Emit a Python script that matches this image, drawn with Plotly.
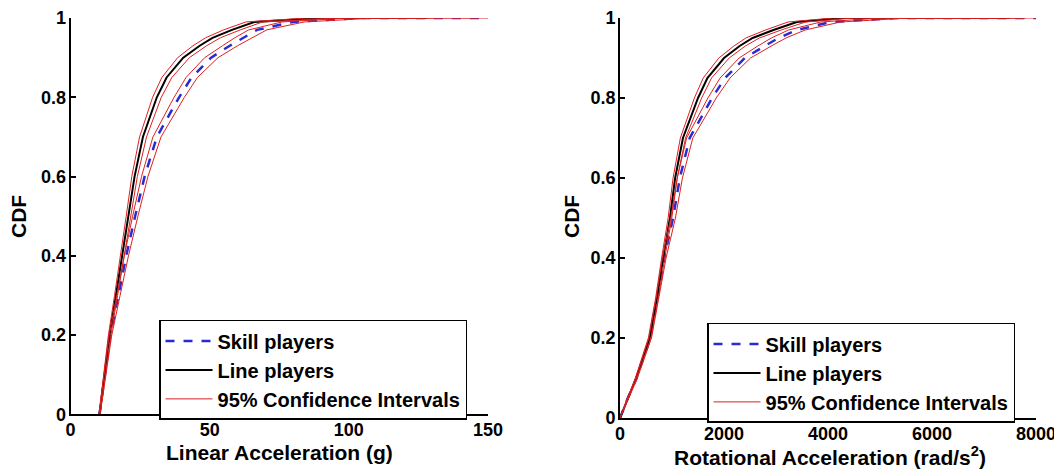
import plotly.graph_objects as go

# ---------------- data ----------------
# Left panel: Linear Acceleration (g)
lin_cdf = [0, 0.1, 0.2, 0.3, 0.4, 0.5, 0.6, 0.7, 0.8, 0.85, 0.9, 0.93, 0.95, 0.97, 0.99, 1.0, 1.0]
lin_line = [10.4, 12.2, 14.0, 16.3, 18.6, 20.8, 23.0, 26.0, 31.0, 34.5, 40.5, 46.4, 51, 58, 66, 90, 128]
lin_line_lo = [10.2, 11.8, 13.6, 15.8, 18.0, 20.0, 22.0, 24.8, 29.5, 32.8, 38.5, 44.0, 48.5, 55, 63, 85, 125]
lin_line_hi = [10.6, 12.6, 14.5, 16.9, 19.3, 21.6, 24.0, 27.3, 32.6, 36.4, 42.7, 48.9, 53.8, 61, 69, 96, 132]
lin_skill = [10.4, 12.3, 14.3, 17.2, 20.0, 23.2, 26.6, 31.0, 39.0, 43.5, 50.5, 57.2, 62, 67, 80, 105, 150]
lin_skill_lo = [10.2, 12.0, 13.9, 16.6, 19.3, 22.3, 25.5, 29.6, 37.2, 41.5, 48.2, 54.6, 59, 64, 76, 100, 146]
lin_skill_hi = [10.6, 12.7, 14.8, 17.8, 20.8, 24.2, 27.8, 32.5, 40.9, 45.6, 53, 60, 65, 70.5, 84, 110, 150]

# Right panel: Rotational Acceleration (rad/s^2)
rot_cdf = [0, 0.05, 0.1, 0.2, 0.3, 0.4, 0.5, 0.6, 0.7, 0.8, 0.85, 0.9, 0.93, 0.95, 0.97, 0.99, 1.0, 1.0]
rot_line = [0, 150, 310, 570, 710, 830, 960, 1060, 1210, 1500, 1680, 2000, 2300, 2550, 2950, 3400, 4300, 7500]
rot_line_lo = [0, 140, 295, 545, 685, 800, 925, 1020, 1160, 1430, 1600, 1900, 2190, 2420, 2800, 3230, 4100, 7300]
rot_line_hi = [0, 160, 325, 595, 735, 860, 995, 1100, 1260, 1570, 1760, 2100, 2410, 2680, 3100, 3570, 4500, 7700]
rot_skill = [0, 150, 320, 580, 720, 850, 1020, 1150, 1340, 1770, 2020, 2400, 2780, 3050, 3400, 4050, 5300, 8000]
rot_skill_lo = [0, 140, 305, 555, 695, 815, 975, 1100, 1280, 1690, 1925, 2290, 2650, 2910, 3240, 3860, 5050, 7800]
rot_skill_hi = [0, 160, 335, 605, 745, 885, 1065, 1200, 1400, 1850, 2115, 2510, 2910, 3190, 3560, 4240, 5550, 8000]

lin_xticks = [0, 50, 100, 150]
rot_xticks = [0, 2000, 4000, 6000, 8000]
cdf_ticks = [0, 0.2, 0.4, 0.6, 0.8, 1]

# ---------------- styles ----------------
BLUE = "#2a2ad0"
BLACK = "#000000"
RED = "#dd2020"
FAM = "Liberation Sans, Arial, sans-serif"
TICKFONT = dict(family=FAM, size=18, color="black", weight="bold")
TITLEFONT = dict(family=FAM, size=21, color="black", weight="bold")
LEGFONT = dict(family=FAM, size=20, color="black", weight="bold")

fig = go.Figure()

def add_panel(xa, ya, legend, cdf, line, line_lo, line_hi, skill, skill_lo, skill_hi):
    fig.add_trace(go.Scatter(x=skill, y=cdf, mode="lines", name="Skill players",
                             line=dict(color=BLUE, width=2.5, dash="dash"),
                             xaxis=xa, yaxis=ya, legend=legend))
    fig.add_trace(go.Scatter(x=line, y=cdf, mode="lines", name="Line players",
                             line=dict(color=BLACK, width=2),
                             xaxis=xa, yaxis=ya, legend=legend))
    for i, xs in enumerate([line_lo, line_hi, skill_lo, skill_hi]):
        fig.add_trace(go.Scatter(x=xs, y=cdf, mode="lines", name="95% Confidence Intervals",
                                 line=dict(color=RED, width=1),
                                 showlegend=(i == 0), legendgroup="ci" + legend,
                                 xaxis=xa, yaxis=ya, legend=legend))

add_panel("x", "y", "legend", lin_cdf, lin_line, lin_line_lo, lin_line_hi,
          lin_skill, lin_skill_lo, lin_skill_hi)
add_panel("x2", "y2", "legend2", rot_cdf, rot_line, rot_line_lo, rot_line_hi,
          rot_skill, rot_skill_lo, rot_skill_hi)

axis_common = dict(showline=True, linecolor="black", linewidth=2, ticks="inside",
                   ticklen=5, tickwidth=1.5, tickcolor="black", showgrid=False,
                   zeroline=False, tickfont=TICKFONT, mirror=False, automargin=False,
                   ticklabeloverflow="allow")

legend_common = dict(bgcolor="white", bordercolor="black", borderwidth=1.5,
                     font=LEGFONT, xanchor="left", yanchor="top", tracegroupgap=0,
                     itemwidth=47)

# page is offset by the 8px body margin: positions below are figure coordinates
fig.update_layout(
    width=1062, height=469,
    margin=dict(l=0, r=0, t=0, b=0, autoexpand=False),
    paper_bgcolor="white", plot_bgcolor="white",
    xaxis=dict(domain=[0.0589, 0.4520], range=[0, 150], tickvals=lin_xticks,
               ticklabelstandoff=-2, anchor="y", **axis_common),
    yaxis=dict(domain=[0.1333, 0.9787], range=[0, 1], tickvals=cdf_ticks,
               ticklabelstandoff=-1, anchor="x", **axis_common),
    xaxis2=dict(domain=[0.5763, 0.9680], range=[0, 8000], tickvals=rot_xticks,
                ticklabelstandoff=-2, anchor="y2", **axis_common),
    yaxis2=dict(domain=[0.1258, 0.9787], range=[0, 1], tickvals=cdf_ticks,
                ticklabelstandoff=-1, anchor="x2", **axis_common),
    legend=dict(x=0.1422, y=0.335, **legend_common),
    legend2=dict(x=0.6582, y=0.3286, **legend_common),
    annotations=[
        dict(text="Linear Acceleration (g)", x=0.2552, y=0.0512, xref="paper", yref="paper",
             xanchor="center", yanchor="middle", showarrow=False, font=TITLEFONT),
        dict(text="Rotational Acceleration (rad/s<sup>2</sup>)", x=0.774, y=0.045,
             xref="paper", yref="paper", xanchor="center", yanchor="middle",
             showarrow=False, font=TITLEFONT),
        dict(text="CDF", x=0.0094, y=0.5565, xref="paper", yref="paper", textangle=-90,
             xanchor="center", yanchor="middle", showarrow=False, font=TITLEFONT),
        dict(text="CDF", x=0.5311, y=0.5544, xref="paper", yref="paper", textangle=-90,
             xanchor="center", yanchor="middle", showarrow=False, font=TITLEFONT),
    ],
)

fig.write_html("out.html")
